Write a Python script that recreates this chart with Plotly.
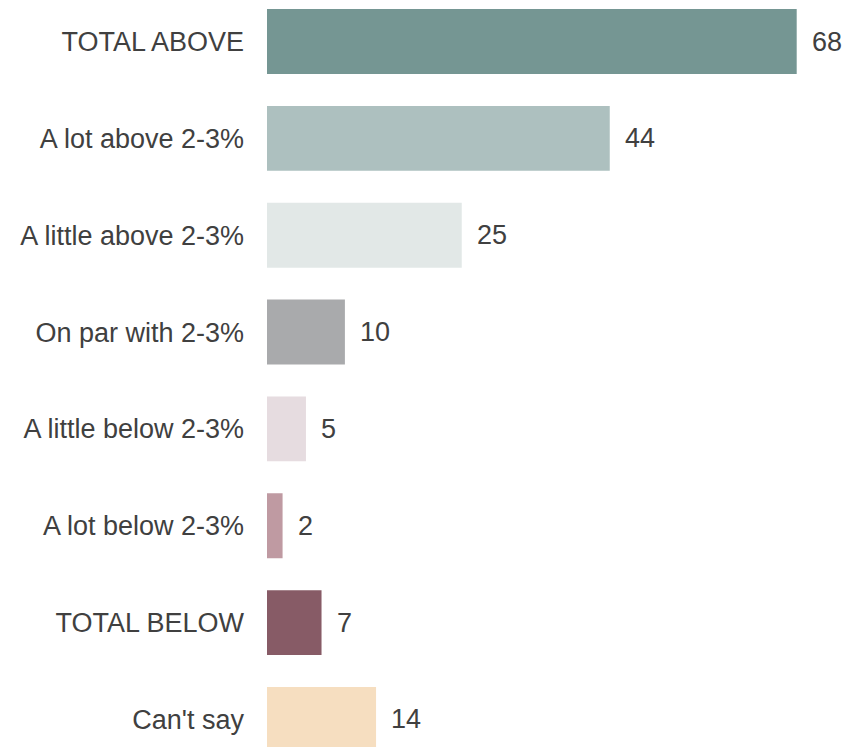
import plotly.graph_objects as go

categories = [
    "TOTAL ABOVE",
    "A lot above 2-3%",
    "A little above 2-3%",
    "On par with 2-3%",
    "A little below 2-3%",
    "A lot below 2-3%",
    "TOTAL BELOW",
    "Can't say",
]
values = [68, 44, 25, 10, 5, 2, 7, 14]
colors = [
    "#759693",
    "#adc0bf",
    "#e2e8e7",
    "#a9aaac",
    "#e6dce0",
    "#bf9aa2",
    "#875b66",
    "#f6dec0",
]

FONT = "Liberation Sans, Arial, sans-serif"
TEXT_COLOR = "#404040"
FONT_SIZE = 27

fig = go.Figure(
    go.Bar(
        x=values,
        y=categories,
        orientation="h",
        marker=dict(color=colors, line=dict(width=0)),
        hoverinfo="skip",
    )
)

# value labels just to the right of each bar
for cat, val in zip(categories, values):
    fig.add_annotation(
        x=val, y=cat, text=str(val), showarrow=False,
        xanchor="left", xshift=13,
        font=dict(family=FONT, size=FONT_SIZE, color=TEXT_COLOR),
    )

fig.update_layout(
    width=845,
    height=747,
    margin=dict(l=267, r=0, t=0, b=0),
    paper_bgcolor="white",
    plot_bgcolor="white",
    bargap=0.33,
    showlegend=False,
    font=dict(family=FONT, size=FONT_SIZE, color=TEXT_COLOR),
    xaxis=dict(range=[0, 74.2], visible=False, fixedrange=True),
    yaxis=dict(
        type="category",
        categoryorder="array",
        categoryarray=categories,
        range=[7.284, -0.4285],
        showgrid=False,
        zeroline=False,
        showline=False,
        ticks="",
        ticklabelstandoff=22,
        tickfont=dict(family=FONT, size=FONT_SIZE, color=TEXT_COLOR),
        fixedrange=True,
    ),
)

fig.write_html("out.html")
